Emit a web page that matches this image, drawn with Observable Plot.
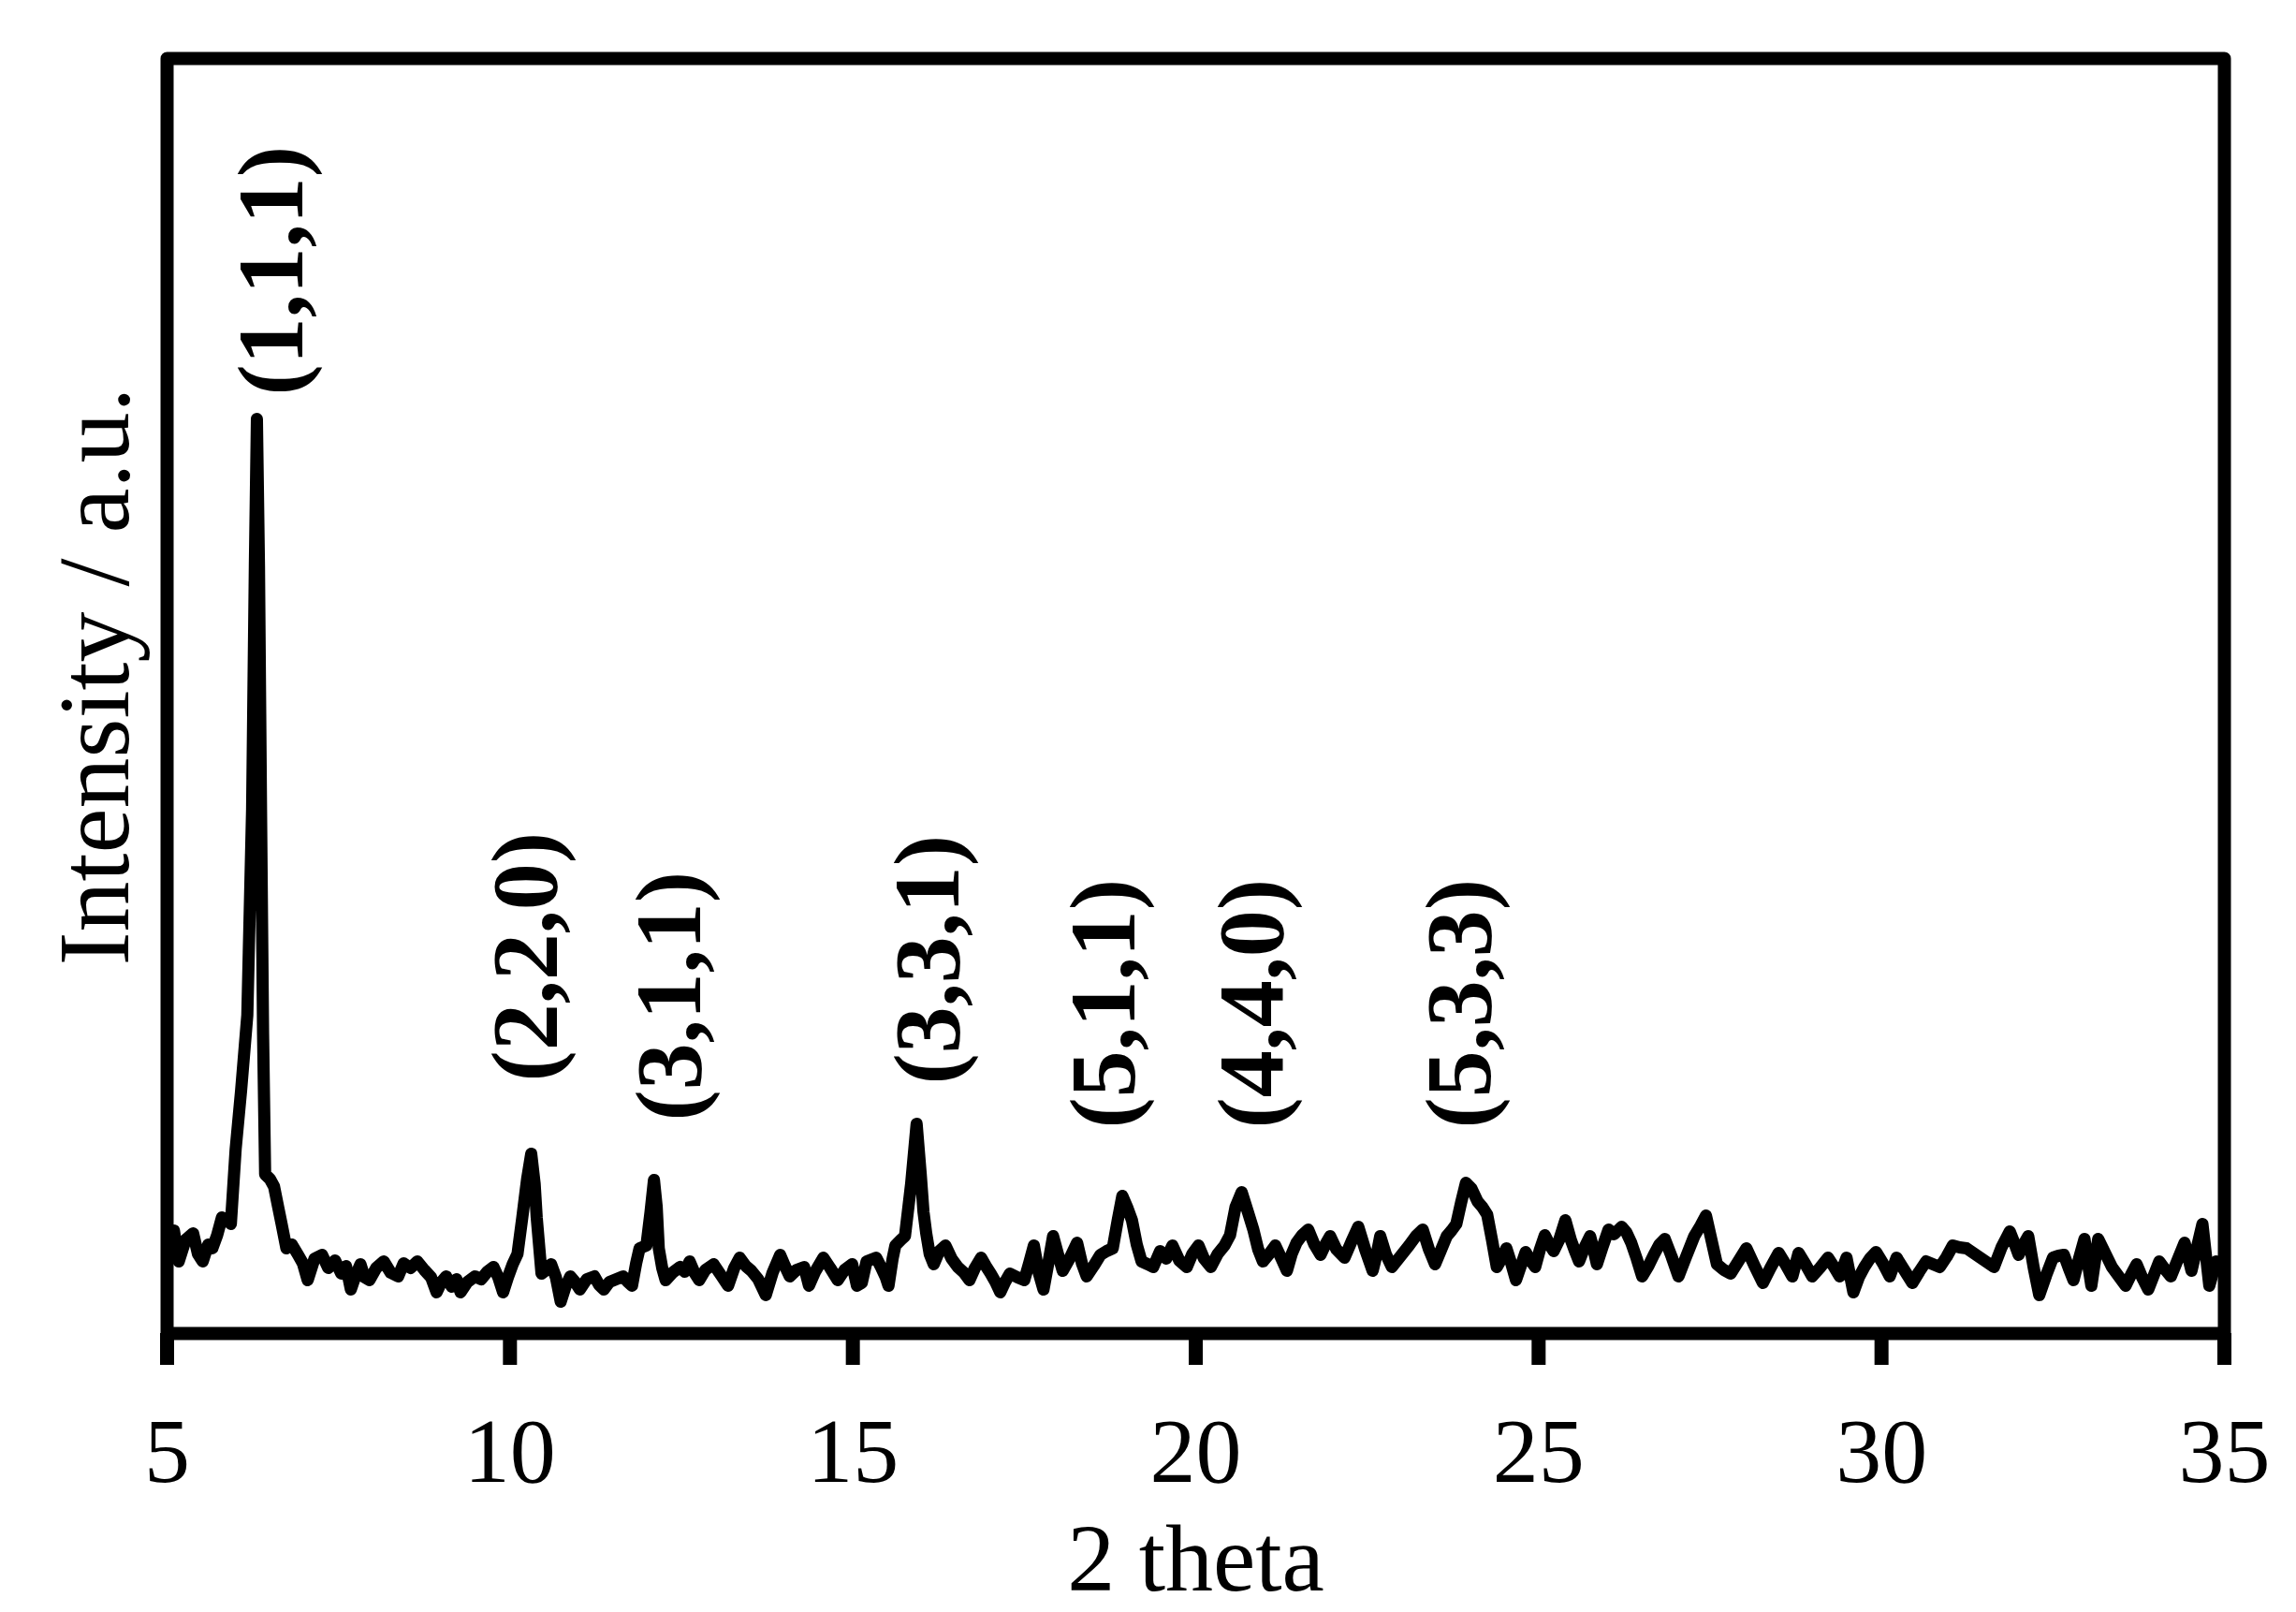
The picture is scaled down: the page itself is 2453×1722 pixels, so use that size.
<!DOCTYPE html>
<html>
<head>
<meta charset="utf-8">
<script src="https://cdn.jsdelivr.net/npm/d3@7"></script>
<script src="https://cdn.jsdelivr.net/npm/@observablehq/plot@0.6"></script>
<style>
  html, body { margin: 0; padding: 0; background: white; }
  svg { display: block; }
</style>
</head>
<body>
<script>
// 2θ positions (degrees) of the digitised XRD pattern
const twoTheta = [
  5.00, 5.03, 5.10, 5.17, 5.27, 5.38, 5.45, 5.52, 5.60, 5.66, 5.73, 5.80, 5.87, 5.93,
  6.00, 6.08, 6.17, 6.24, 6.28, 6.31, 6.34, 6.37, 6.40, 6.43, 6.50, 6.56, 6.62, 6.67,
  6.74, 6.82, 6.91, 6.98, 7.05, 7.15, 7.26, 7.35, 7.45, 7.54, 7.61, 7.68, 7.75, 7.82,
  7.88, 7.95, 8.05, 8.16, 8.26, 8.37, 8.45, 8.55, 8.65, 8.75, 8.85, 8.93, 9.00, 9.07,
  9.15, 9.22, 9.28, 9.38, 9.49, 9.58, 9.67, 9.76, 9.83, 9.90, 9.97, 10.04, 10.11, 10.18,
  10.25, 10.31, 10.36, 10.39, 10.46, 10.53, 10.60, 10.67, 10.74, 10.81, 10.88, 10.95, 11.02, 11.12,
  11.23, 11.30, 11.37, 11.45, 11.55, 11.65, 11.72, 11.78, 11.84, 11.89, 11.99, 12.05, 12.10, 12.14,
  12.17, 12.22, 12.27, 12.37, 12.48, 12.55, 12.62, 12.69, 12.76, 12.85, 12.97, 13.08, 13.18, 13.27,
  13.35, 13.44, 13.52, 13.62, 13.73, 13.83, 13.94, 14.01, 14.08, 14.18, 14.29, 14.36, 14.45, 14.57,
  14.67, 14.78, 14.88, 14.99, 15.06, 15.13, 15.20, 15.34, 15.41, 15.48, 15.52, 15.58, 15.62, 15.70,
  15.76, 15.85, 15.93, 15.99, 16.03, 16.07, 16.12, 16.18, 16.26, 16.35, 16.44, 16.53, 16.62, 16.70,
  16.78, 16.87, 16.94, 17.01, 17.08, 17.15, 17.22, 17.29, 17.40, 17.50, 17.57, 17.64, 17.71, 17.78,
  17.85, 17.92, 17.99, 18.06, 18.16, 18.27, 18.34, 18.41, 18.51, 18.61, 18.70, 18.79, 18.86, 18.93,
  19.00, 19.07, 19.14, 19.21, 19.30, 19.38, 19.48, 19.57, 19.66, 19.76, 19.87, 19.95, 20.04, 20.12,
  20.22, 20.32, 20.42, 20.50, 20.58, 20.67, 20.76, 20.84, 20.91, 20.98, 21.07, 21.16, 21.25, 21.33,
  21.40, 21.47, 21.55, 21.64, 21.73, 21.82, 21.89, 21.96, 22.05, 22.17, 22.27, 22.37, 22.47, 22.58,
  22.64, 22.69, 22.77, 22.86, 22.98, 23.11, 23.21, 23.31, 23.40, 23.49, 23.57, 23.66, 23.73, 23.80,
  23.87, 23.94, 24.02, 24.11, 24.18, 24.25, 24.32, 24.39, 24.46, 24.53, 24.60, 24.67, 24.74, 24.81,
  24.88, 24.95, 25.02, 25.09, 25.16, 25.22, 25.30, 25.39, 25.47, 25.52, 25.59, 25.67, 25.75, 25.80,
  25.85, 25.93, 26.02, 26.10, 26.21, 26.28, 26.35, 26.43, 26.51, 26.60, 26.68, 26.76, 26.84, 26.94,
  27.04, 27.14, 27.27, 27.36, 27.44, 27.52, 27.60, 27.70, 27.80, 27.92, 28.03, 28.15, 28.27, 28.38,
  28.50, 28.60, 28.70, 28.79, 28.89, 28.99, 29.10, 29.22, 29.30, 29.39, 29.49, 29.59, 29.67, 29.75,
  29.83, 29.92, 30.02, 30.12, 30.22, 30.33, 30.45, 30.55, 30.65, 30.75, 30.85, 30.95, 31.04, 31.14,
  31.24, 31.34, 31.44, 31.54, 31.64, 31.75, 31.87, 31.94, 32.00, 32.07, 32.14, 32.22, 32.30, 32.40,
  32.50, 32.58, 32.66, 32.73, 32.80, 32.88, 32.96, 33.01, 33.06, 33.11, 33.16, 33.26, 33.36, 33.46,
  33.56, 33.64, 33.72, 33.80, 33.89, 33.97, 34.05, 34.13, 34.22, 34.32, 34.42, 34.47, 34.52, 34.60,
  34.68, 34.73, 34.78, 34.83, 34.88, 34.95, 35.00
];
// Intensity (a.u.) at each 2θ
const intensity = [
  95, 91, 110, 77, 100, 107, 85, 77, 95, 91, 105, 124, 122, 117,
  197, 260, 340, 560, 820, 977, 820, 560, 320, 170, 165, 157, 135, 117,
  91, 95, 84, 75, 57, 80, 84, 70, 78, 64, 72, 47, 62, 74,
  60, 57, 70, 77, 65, 61, 75, 70, 77, 68, 60, 44, 55, 61,
  50, 58, 44, 55, 61, 58, 66, 71, 60, 44, 60, 74, 85, 124,
  165, 192, 160, 124, 64, 68, 74, 60, 34, 50, 61, 55, 47, 58,
  61, 52, 47, 55, 58, 61, 55, 51, 75, 91, 94, 130, 164, 135,
  91, 70, 57, 65, 71, 66, 77, 65, 57, 68, 74, 62, 51, 70,
  81, 72, 67, 58, 41, 65, 84, 72, 61, 68, 71, 51, 66, 81,
  70, 57, 68, 74, 51, 54, 77, 81, 71, 60, 51, 80, 94, 100,
  104, 160, 224, 170, 130, 107, 85, 74, 88, 94, 80, 71, 65, 57,
  70, 81, 72, 64, 55, 44, 55, 64, 60, 57, 75, 94, 65, 47,
  75, 104, 85, 67, 80, 97, 75, 61, 72, 84, 88, 91, 120, 147,
  135, 121, 95, 77, 74, 71, 88, 80, 94, 78, 71, 85, 94, 80,
  71, 85, 94, 105, 135, 151, 130, 111, 90, 77, 85, 94, 80, 67,
  85, 97, 105, 111, 95, 84, 95, 104, 90, 81, 98, 114, 90, 67,
  85, 104, 85, 71, 82, 94, 104, 111, 90, 74, 88, 104, 110, 117,
  140, 161, 155, 141, 135, 127, 100, 71, 80, 91, 75, 57, 72, 87,
  78, 71, 90, 105, 95, 88, 100, 121, 100, 90, 77, 92, 104, 90,
  74, 92, 111, 106, 114, 108, 97, 80, 61, 72, 84, 95, 101, 82,
  61, 80, 104, 115, 126, 100, 74, 68, 64, 78, 91, 72, 54, 70,
  86, 74, 61, 86, 74, 61, 70, 81, 72, 61, 81, 44, 60, 71,
  80, 87, 75, 61, 81, 68, 54, 66, 77, 74, 71, 82, 94, 92,
  91, 86, 81, 76, 71, 92, 109, 96, 84, 95, 104, 70, 41, 62,
  81, 83, 84, 70, 57, 80, 101, 75, 51, 76, 101, 86, 71, 61,
  51, 63, 74, 60, 47, 62, 77, 69, 61, 79, 97, 82, 67, 92,
  117, 84, 51, 64, 77, 72, 80
];

// Miller-index annotations: text, 2θ position, intensity where the label starts
const peakLabels = ["(1,1,1)", "(2,2,0)", "(3,1,1)", "(3,3,1)", "(5,1,1)", "(4,4,0)", "(5,3,3)"];
const peakLabelTheta = [6.54, 10.24, 12.33, 16.11, 18.67, 20.83, 23.86];
const peakLabelIntensity = [1002, 269, 227, 266, 219, 219, 219];

const xTicks = [5, 10, 15, 20, 25, 30, 35];
const xDomain = [5, 35];
const yDomain = [0, 1362];
const xTitle = "2 theta";
const yTitle = "Intensity / a.u.";

const pattern = twoTheta.map((t, i) => ({t, v: intensity[i]}));
const labels = peakLabels.map((s, i) => ({s, t: peakLabelTheta[i], v: peakLabelIntensity[i]}));

const chart = Plot.plot({
  width: 2453,
  height: 1722,
  marginLeft: 178,
  marginRight: 77,
  marginTop: 62,
  marginBottom: 298,
  style: {background: "white", color: "black", fontFamily: "'Liberation Serif', 'Times New Roman', serif"},
  x: {domain: xDomain},
  y: {domain: yDomain, axis: null},
  marks: [
    Plot.line(pattern, {x: "t", y: "v", stroke: "black", strokeWidth: 13, strokeLinejoin: "round", strokeLinecap: "round"}),
    Plot.frame({stroke: "black", strokeWidth: 14, strokeLinejoin: "round"}),
    Plot.axisX(xTicks, {tickSize: 34, tickPadding: 55, strokeWidth: 15, fontSize: 98, label: null, tickFormat: d => String(d)}),
    Plot.text(labels, {x: "t", y: "v", text: "s", rotate: -90, textAnchor: "start", fontWeight: "bold", fontSize: 100, fill: "black"}),
    Plot.text([xTitle], {frameAnchor: "bottom", text: d => d, textAnchor: "middle", dy: 274, lineAnchor: "bottom", fontSize: 102, fill: "black"}),
    Plot.text([yTitle], {frameAnchor: "left", text: d => d, textAnchor: "middle", rotate: -90, dx: -76, dy: -21, fontSize: 108, fill: "black"})
  ]
});
document.body.appendChild(chart);
</script>
</body>
</html>
